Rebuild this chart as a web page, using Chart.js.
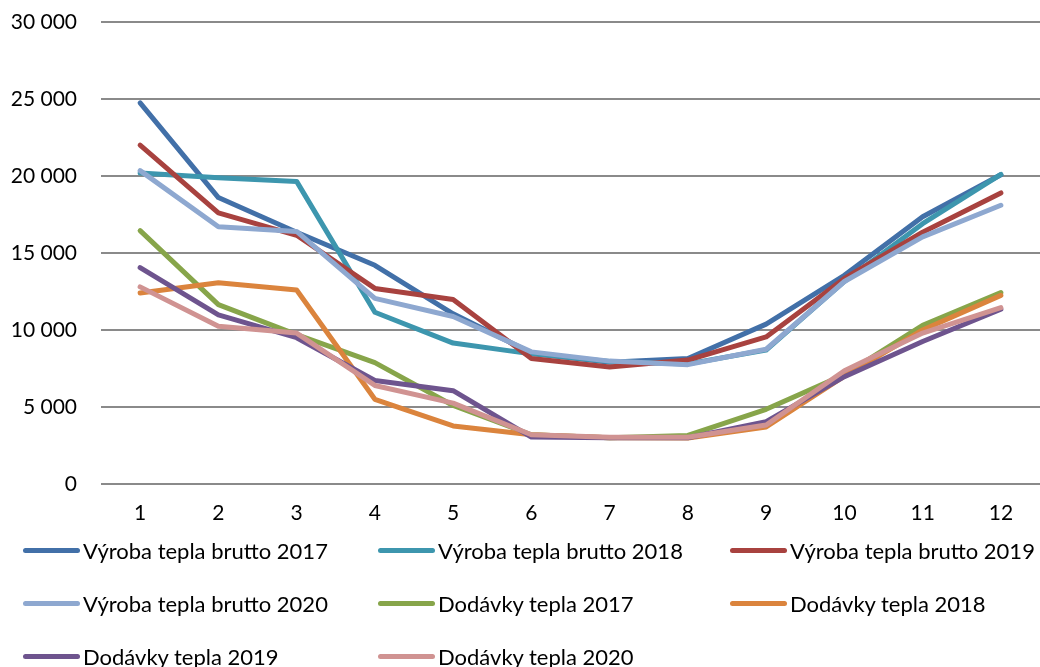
<!DOCTYPE html>
<html>
<head>
<meta charset="utf-8">
<script src="https://cdn.jsdelivr.net/npm/chart.js@4/dist/chart.umd.min.js"></script>
<style>
  html, body { margin: 0; padding: 0; background: #fff; }
  #wrap { position: relative; width: 1040px; height: 667px; }
  #legend { position: absolute; left: 0; top: 0; width: 1040px; height: 667px; pointer-events: none;
            font-family: Lato, "Liberation Sans", sans-serif; font-size: 22px; color: #000; }
  .item { position: absolute; display: flex; align-items: center; white-space: nowrap; }
  .item span.sw { display: inline-block; width: 57px; height: 5px; border-radius: 3px; margin-right: 3px; }
</style>
</head>
<body>
<div id="wrap">
  <canvas id="mycanvas" width="1040" height="667"></canvas>
  <div id="legend"></div>
</div>
<script>
var months = ["1", "2", "3", "4", "5", "6", "7", "8", "9", "10", "11", "12"];

var vyroba2017 = [24750, 18600, 16350, 14200, 11050, 8500, 7900, 8150, 10380, 13550, 17350, 20080];
var vyroba2018 = [20200, 19880, 19650, 11150, 9150, 8450, 7950, 7800, 8700, 13150, 16900, 20100];
var vyroba2019 = [22000, 17600, 16150, 12700, 11980, 8150, 7600, 8050, 9550, 13350, 16350, 18900];
var vyroba2020 = [20350, 16700, 16400, 12050, 10880, 8580, 7980, 7750, 8750, 13150, 16050, 18100];
var dodavky2017 = [16450, 11650, 9700, 7880, 5100, 3200, 3000, 3150, 4850, 7100, 10300, 12430];
var dodavky2018 = [12400, 13070, 12600, 5500, 3770, 3200, 3000, 2980, 3700, 7000, 10000, 12250];
var dodavky2019 = [14050, 10980, 9500, 6720, 6060, 3050, 3000, 3000, 4050, 6970, 9250, 11350];
var dodavky2020 = [12800, 10250, 9800, 6400, 5250, 3200, 3030, 3030, 3830, 7350, 9800, 11450];

var series = [
    { label: "Výroba tepla brutto 2017", color: "#4270A8", data: vyroba2017 },
    { label: "Výroba tepla brutto 2018", color: "#3D96AE", data: vyroba2018 },
    { label: "Výroba tepla brutto 2019", color: "#A8423F", data: vyroba2019 },
    { label: "Výroba tepla brutto 2020", color: "#8EA8D0", data: vyroba2020 },
    { label: "Dodávky tepla 2017", color: "#87A54A", data: dodavky2017 },
    { label: "Dodávky tepla 2018", color: "#DB843D", data: dodavky2018 },
    { label: "Dodávky tepla 2019", color: "#6E548E", data: dodavky2019 },
    { label: "Dodávky tepla 2020", color: "#D09392", data: dodavky2020 }
];

var datasets = series.map(function(s, i) {
    return {
        label: s.label,
        data: s.data,
        borderColor: s.color,
        backgroundColor: s.color,
        borderWidth: 5,
        borderCapStyle: "round",
        borderJoinStyle: "round",
        pointRadius: 0,
        tension: 0,
        fill: false,
        order: series.length - i   // later series on top
    };
});

var font = { family: "Lato, 'Liberation Sans', sans-serif", size: 21 };

var ctx = document.getElementById("mycanvas");
var chart = new Chart(ctx, {
    type: "line",
    data: { labels: months, datasets: datasets },
    options: {
        responsive: false,
        animation: false,
        layout: { padding: { top: 22, right: 0, left: 0, bottom: 0 } },
        plugins: { legend: { display: false }, tooltip: { enabled: false } },
        scales: {
            x: {
                offset: true,
                grid: { display: false, drawTicks: false },
                border: { display: false },
                ticks: { color: "#000", font: font, padding: 17 },
                afterFit: function(scale) { scale.height = 183; }
            },
            y: {
                min: 0,
                max: 30000,
                ticks: {
                    stepSize: 5000,
                    color: "#000",
                    font: font,
                    padding: 24,
                    callback: function(v) { return String(v).replace(/\B(?=(\d{3})+(?!\d))/g, " "); }
                },
                grid: { color: "#8a8a8a", lineWidth: 2, drawTicks: false },
                border: { display: false },
                afterFit: function(scale) {
                    scale.width = 101;
                    scale.paddingTop = 0;
                    scale.paddingBottom = 0;
                }
            }
        }
    }
});

// legend in three columns below the plot
var cols = [23, 378, 730];
var rows = [550, 603, 656];
var legend = document.getElementById("legend");
series.forEach(function(s, i) {
    var item = document.createElement("div");
    item.className = "item";
    item.style.left = cols[i % 3] + "px";
    item.style.top = (rows[Math.floor(i / 3)] - 14) + "px";
    item.style.height = "28px";
    item.innerHTML = '<span class="sw" style="background:' + s.color + '"></span>' + s.label;
    legend.appendChild(item);
});
</script>
</body>
</html>
